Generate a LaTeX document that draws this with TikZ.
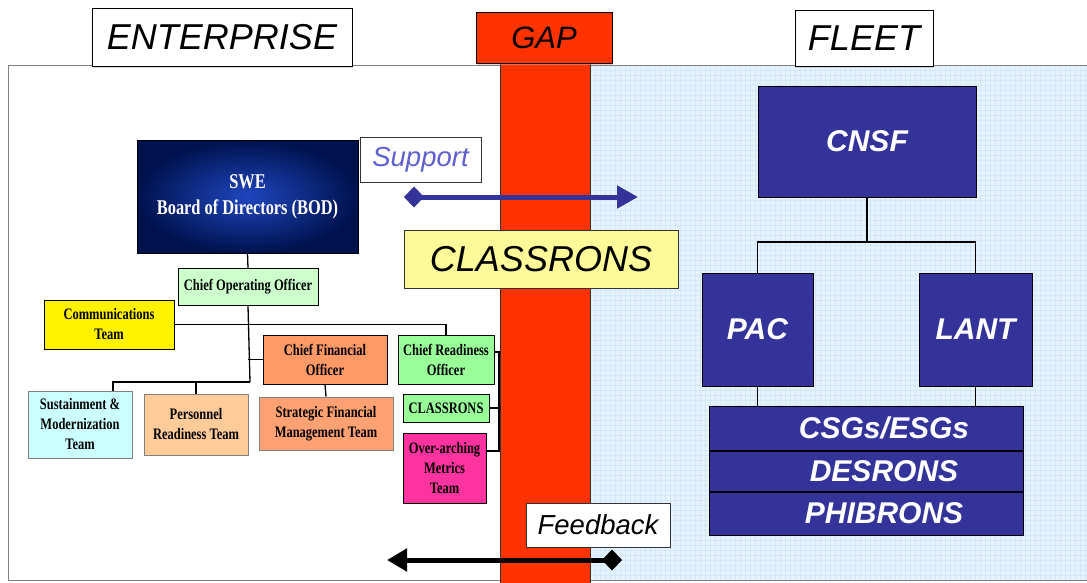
\documentclass[tikz,border=0pt]{standalone}
\usepackage{fontspec}
\setmainfont{Liberation Sans}
\newfontfamily\orgfont[FakeStretch=0.78]{Liberation Serif}
\usepackage{tikz}
\usetikzlibrary{arrows.meta, positioning, shadows}

\definecolor{navy}{RGB}{51,51,153}
\definecolor{gapred}{RGB}{255,51,0}
\definecolor{gridbg}{RGB}{230,243,255}
\definecolor{gridln}{RGB}{210,232,252}
\definecolor{bodin}{RGB}{30,70,190}
\definecolor{bodout}{RGB}{0,18,78}
\definecolor{supcol}{RGB}{95,95,205}
\definecolor{cooGreen}{RGB}{204,255,204}
\definecolor{croGreen}{RGB}{153,255,153}
\definecolor{cfoOrange}{RGB}{255,153,102}
\definecolor{persOrange}{RGB}{255,204,153}
\definecolor{sustCyan}{RGB}{204,255,255}
\definecolor{omPink}{RGB}{255,51,160}

\begin{document}
\begin{tikzpicture}[x=1pt, y=-1pt,
    dims/.style 2 args={minimum width=#1pt, minimum height=#2pt},
    hdr/.style={draw, fill=white, line width=1pt, inner sep=0pt,
        drop shadow={shadow xshift=1pt, shadow yshift=-2pt, fill=gray!60},
        font=\fontsize{36}{40}\selectfont\itshape},
    tag/.style={draw=black!80, fill=white, line width=1pt, inner sep=0pt,
        font=\fontsize{27.5}{32}\selectfont\itshape},
    fleetbox/.style={draw=black, fill=navy, line width=1pt, text=white, inner sep=0pt,
        font=\fontsize{30}{34}\selectfont\bfseries\itshape},
    orgbox/.style={draw, line width=0.8pt, inner sep=0pt, align=center,
        font=\orgfont\bfseries\fontsize{16}{20}\selectfont},
    softbox/.style={orgbox, draw=gray},
    link/.style={draw, line width=1.3pt}
]
\useasboundingbox (0,0) rectangle (1087,582);

% panels and the gap strip
\draw[gray, line width=1pt, fill=white] (8,65) rectangle (500,580);
\fill[gridbg] (590,65) rectangle (1087,580);
\draw[gridln, line width=0.4pt, step=5pt] (590,65) grid (1087,580);
\draw[gray, line width=1pt] (590,65) -- (1087,65) (590,580) -- (1087,580);
\draw[draw=black!80, fill=gapred, line width=1pt] (500,63) rectangle (590,583);

% headings
\node[hdr, dims={260}{58}] (enterprise) at (222,37) {ENTERPRISE};
\node[hdr, dims={136}{51}, fill=gapred, font=\fontsize{31}{34}\selectfont\itshape] (gap) at (544,37.5) {GAP};
\node[hdr, dims={138}{56}] (fleet) at (864,38) {FLEET};

% Enterprise side
\node[orgbox, dims={221}{113}, shading=radial, inner color=bodin, outer color=bodout,
      text=white, font=\orgfont\bfseries\fontsize{21}{26}\selectfont] (bod) at (247.5,196.5)
      {SWE\\Board of Directors (BOD)};
\node[orgbox, dims={140}{37}, fill=cooGreen] (coo) at (248,287) {Chief Operating Officer};
\node[orgbox, dims={130}{49}, fill=yellow] (comm) at (109,324.5) {Communications\\Team};
\node[orgbox, dims={124}{49}, fill=cfoOrange] (cfo) at (325,359.5) {Chief Financial\\Officer};
\node[softbox, dims={134}{53}, fill=cfoOrange!92!white] (sfm) at (326,423.5) {Strategic Financial\\Management Team};
\node[softbox, dims={104}{67}, fill=sustCyan] (sust) at (80,424.5) {Sustainment \&\\Modernization\\Team};
\node[softbox, dims={104}{61}, fill=persOrange] (pers) at (196,424.5) {Personnel\\Readiness Team};
\node[orgbox, dims={96}{49}, fill=croGreen] (cro) at (446,359.5) {Chief Readiness\\Officer};
\node[orgbox, dims={86}{28}, fill=croGreen] (clsmall) at (446,408) {CLASSRONS};
\node[orgbox, dims={83}{70}, fill=omPink] (om) at (444.5,468) {Over-arching\\Metrics\\Team};

\coordinate (spine) at (250,382);
\coordinate (sustdrop) at (113,382);
\coordinate (brktop) at (499,352);
\coordinate (brkbot) at (499,451);

\draw[link] (bod.south) -- (coo.north);
\draw[link] (coo.south) -- (spine);
\draw[link] (comm.east) -| (cro.north);
\draw[link] (coo.south |- cfo.west) -- (cfo.west);
\draw[link] (cfo.south) -- (sfm.north);
\draw[link] (spine) -- (sustdrop) -- (sustdrop |- sust.north);
\draw[link] (pers.north) -- (pers.north |- spine);
\draw[link] (cro.east |- brktop) -- (brktop) -- (brkbot) -- (om.east |- brkbot);
\draw[link] (clsmall.east) -- (clsmall.east -| brktop);

% Fleet side
\node[fleetbox, dims={218}{111}] (cnsf) at (867,141.5) {CNSF};
\node[fleetbox, dims={111}{113}] (pac) at (757.5,329.5) {PAC};
\node[fleetbox, dims={113}{113}] (lant) at (975.5,329.5) {LANT};
\node[fleetbox, dims={314}{44}] (csg) at (866,428) {\hspace*{36pt}CSGs/ESGs};
\node[fleetbox, dims={314}{40}, below=0pt of csg] (desrons) {\hspace*{36pt}DESRONS};
\node[fleetbox, dims={314}{43}, below=0pt of desrons] (phibrons) {\hspace*{36pt}PHIBRONS};

\coordinate (fork) at (867,242);
\draw[link] (cnsf.south) -- (fork);
\draw[link] (pac.north) |- (fork) -| (lant.north);
\draw[link] (pac.south) -- (pac.south |- csg.north);
\draw[link] (lant.south) -- (lant.south |- csg.north);

% across the gap
\node[tag, dims={121}{45}, text=supcol] (support) at (420.5,159.5) {Support};
\node[draw=black!80, fill=yellow!40!white, line width=1pt, dims={274}{58}, inner sep=0pt,
      font=\fontsize{36}{40}\selectfont\itshape] (classrons) at (541,259) {CLASSRONS};
\node[tag, dims={144}{44}] (feedback) at (598,525) {Feedback};

\coordinate (supL) at (404,197);
\coordinate (supR) at (638,197);
\coordinate (fbL) at (387,560);
\coordinate (fbR) at (622,560);
\draw[navy, line width=5pt, {Diamond[length=20pt,width=21pt]}-{Triangle[length=21pt,width=22pt]}] (supL) -- (supR);
\draw[black, line width=5pt, {Triangle[length=20pt,width=22pt]}-{Diamond[length=20pt,width=21pt]}] (fbL) -- (fbR);

\end{tikzpicture}
\end{document}
